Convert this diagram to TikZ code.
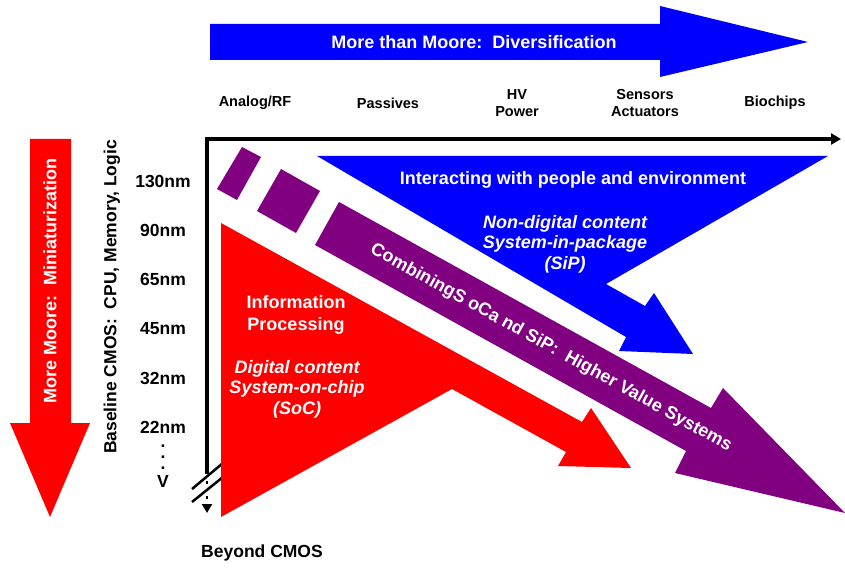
\documentclass[tikz,border=0pt]{standalone}
\usepackage{fontspec}
\setmainfont{Liberation Sans}
\usetikzlibrary{arrows.meta,positioning}
\definecolor{mmblue}{RGB}{0,0,255}
\definecolor{mmred}{RGB}{255,0,0}
\definecolor{mmpurple}{RGB}{128,0,128}

\begin{document}
\begin{tikzpicture}[x=1pt, y=-1pt, node distance=49.3pt]
        \tikzstyle{wlabel}=[text=white, font=\bfseries\fontsize{18}{22}\selectfont, align=center, inner sep=0pt]
        \tikzstyle{witalic}=[text=white, font=\bfseries\itshape\fontsize{18}{20.5}\selectfont, align=center, inner sep=0pt]
        \tikzstyle{column}=[font=\bfseries\fontsize{14.5}{17.5}\selectfont, align=center, inner sep=0pt]
        \tikzstyle{nmlabel}=[font=\bfseries\fontsize{17.5}{20}\selectfont, inner sep=0pt]
        \tikzstyle{dotmark}=[font=\bfseries\fontsize{17.5}{20}\selectfont, inner sep=0pt, anchor=base]
        \tikzstyle{axis}=[line width=3.5pt, line join=miter]

        \useasboundingbox (0,0) rectangle (845,572);

        % More than Moore arrow
        \fill[mmblue] (210,24) -- (660,24) -- (660,6) -- (808,42) -- (660,77) -- (660,60) -- (210,60) -- cycle;
        \node[wlabel] (diversif) at (474,42) {More than Moore:\ \ Diversification};

        \node[column] (analog) at (255,103) {Analog/RF};
        \node[column] (passives) at (388,103) {Passives};
        \node[column] (hvpower) at (517,103) {HV\\Power};
        \node[column] (sensors) at (645,103) {Sensors\\Actuators};
        \node[column] (biochips) at (775,103) {Biochips};

        % More Moore arrow
        \fill[mmred] (30,139) -- (71,139) -- (71,423) -- (90,423) -- (50,517) -- (10,423) -- (30,423) -- cycle;
        \node[wlabel, rotate=90] (miniat) at (50,281) {More Moore:\ \ Miniaturization};

        \node[nmlabel, rotate=90] (baseline) at (112,297) {Baseline CMOS:\ \ CPU, Memory, Logic};

        \node[nmlabel] (n130) at (163,181) {130nm};
        \node[nmlabel, below of=n130] (n90) {90nm};
        \node[nmlabel, below of=n90] (n65) {65nm};
        \node[nmlabel, below of=n65] (n45) {45nm};
        \node[nmlabel, below of=n45] (n32) {32nm};
        \node[nmlabel, below of=n32] (n22) {22nm};
        \node[dotmark] (dot1) at (163,447) {.};
        \node[dotmark] (dot2) at (163,458) {.};
        \node[dotmark] (dot3) at (163,469) {.};
        \node[nmlabel] (vmark) at (163,481) {V};

        % axes
        \coordinate (orig) at (207,139);
        \coordinate (xend) at (841,139);
        \coordinate (ybreak) at (207,474);
        \coordinate (ydots) at (207,481);
        \coordinate (yend) at (207,513);
        \draw[axis, {Triangle[length=10pt,width=11pt]}-] (xend) -- (orig) -- (ybreak);
        \draw[line width=2.5pt, dash pattern=on 2.5pt off 5pt, -{Triangle[length=9pt,width=10pt]}] (ydots) -- (yend);
        \draw[line width=2.5pt] (192,489) -- (223,463);
        \draw[line width=2.5pt] (192,502) -- (223,477);

        \node[nmlabel] (beyond) at (262,553) {Beyond CMOS};

        % SoC
        \fill[mmred] (221,223) -- (582,422) -- (591,408) -- (631,468) -- (558,466) -- (566,452) -- (452,389) -- (221,517) -- cycle;
        \node[wlabel] (info) at (296,315) {Information\\Processing};
        \node[witalic] (soc) at (297,389) {Digital content\\System-on-chip\\(SoC)};

        % SiP
        \fill[mmblue] (317,156) -- (828,156) -- (606,284) -- (645,306) -- (654,293) -- (693,354) -- (619,351) -- (626,337) -- cycle;
        \node[wlabel] (interact) at (573,180) {Interacting with people and environment};
        \node[witalic] (sip) at (565,244) {Non-digital content\\System-in-package\\(SiP)};

        % combining
        \fill[mmpurple] (242,147) -- (261,157) -- (237,200) -- (217,189) -- cycle;
        \fill[mmpurple] (281,169) -- (320,191) -- (296,233) -- (257,211) -- cycle;
        \fill[mmpurple] (339,202) -- (711,408) -- (723,388) -- (845,513) -- (675,473) -- (686,451) -- (315,245) -- cycle;
        \node[wlabel, rotate=-29] (combine) at (551,348) {CombiningS oCa nd SiP:\ \ Higher Value Systems};
    \end{tikzpicture}
\end{document}
